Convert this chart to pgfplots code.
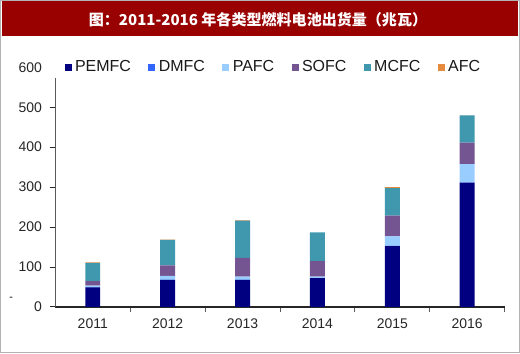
\documentclass[border=0pt]{standalone}
\usepackage{pgfplots}
\pgfplotsset{compat=1.18}
\usepackage{fontspec}
\setmainfont{Liberation Sans}
\newfontfamily\cjk{Noto Sans CJK SC}
\definecolor{pem}{RGB}{0,0,128}
\definecolor{dm}{RGB}{51,102,255}
\definecolor{pa}{RGB}{153,204,255}
\definecolor{so}{RGB}{117,85,145}
\definecolor{mc}{RGB}{64,152,174}
\definecolor{af}{RGB}{230,138,61}
\definecolor{titlered}{RGB}{153,0,0}
\tikzset{
  ylab/.style={anchor=east, font=\fontsize{10.5}{12}\selectfont, text=black!85, xshift=-6.5pt},
  xlab/.style={anchor=north, font=\fontsize{10.5}{12}\selectfont, text=black!85, yshift=-5pt},
}
\begin{document}
\begin{tikzpicture}
\draw[gray!60, line width=0.6pt] (0,0) rectangle (390pt,-264.75pt);
\fill[titlered] (1.5pt,-0.8pt) rectangle (388.5pt,-27pt);
\node[text=white, font=\cjk\bfseries\fontsize{11.3}{13}\selectfont] at (193.5pt,-14.2pt) {图：2011-2016 年各类型燃料电池出货量（兆瓦）};
\node[font=\fontsize{8}{9}\selectfont, text=black] at (8pt,-224pt) {-};
\begin{axis}[
  at={(41.25pt,-230.25pt)}, anchor=south west,
  scale only axis, width=337.5pt, height=180pt,
  ybar stacked, bar width=11.25pt,
  xmin=-0.5, xmax=5.5, ymin=0, ymax=600,
  axis lines=none,
  clip=false,
  xtick=\empty, ytick=\empty,
  every axis plot/.append style={draw=none},
  legend columns=6,
  legend style={at={(0.02,1.0)}, anchor=west, draw=none, fill=none, inner sep=0pt,
    font=\fontsize{12}{14}\selectfont, text=black!90,
    /tikz/every even column/.append style={column sep=10.5pt},
    nodes={inner xsep=2.5pt, inner ysep=1pt}},
  legend image code/.code={\fill[#1] (0pt,-2.7pt) rectangle (5.4pt,2.7pt);},
]
\addplot[fill=pem] coordinates {(0,49) (1,67.5) (2,67.5) (3,72) (4,152.5) (5,311)};
\addplot[fill=dm] coordinates {(0,0.5) (1,0.5) (2,0.3) (3,0.3) (4,0.3) (5,0.5)};
\addplot[fill=pa] coordinates {(0,4) (1,9.5) (2,8) (3,3.5) (4,24) (5,46)};
\addplot[fill=so] coordinates {(0,11) (1,26.5) (2,47) (3,39) (4,52) (5,54)};
\addplot[fill=mc] coordinates {(0,46) (1,64) (2,93) (3,72) (4,69) (5,68)};
\addplot[fill=af] coordinates {(0,1) (1,0.5) (2,1.5) (3,0) (4,2) (5,0.3)};
\legend{PEMFC,DMFC,PAFC,SOFC,MCFC,AFC}
% axis lines
\draw[gray!70!black, line width=0.7pt] (axis cs:-0.5,0) -- (axis cs:-0.5,572);
\draw[black!85, line width=0.9pt] (axis cs:-0.5,0) -- (axis cs:5.5,0);
\pgfplotsinvokeforeach{0,100,200,300,400,500}{
  \draw[black!85, line width=0.7pt] (axis cs:-0.5,#1) -- ([xshift=-3.75pt]axis cs:-0.5,#1);
}
\node[ylab] at (axis cs:-0.5,0) {0};
\node[ylab] at (axis cs:-0.5,100) {100};
\node[ylab] at (axis cs:-0.5,200) {200};
\node[ylab] at (axis cs:-0.5,300) {300};
\node[ylab] at (axis cs:-0.5,400) {400};
\node[ylab] at (axis cs:-0.5,500) {500};
\node[ylab] at (axis cs:-0.5,600) {600};
\pgfplotsinvokeforeach{0.5,1.5,2.5,3.5,4.5,5.5}{
  \draw[gray!70!black, line width=0.6pt] (axis cs:#1,0) -- ([yshift=-3.75pt]axis cs:#1,0);
}
\node[xlab] at (axis cs:0,0) {2011};
\node[xlab] at (axis cs:1,0) {2012};
\node[xlab] at (axis cs:2,0) {2013};
\node[xlab] at (axis cs:3,0) {2014};
\node[xlab] at (axis cs:4,0) {2015};
\node[xlab] at (axis cs:5,0) {2016};
\end{axis}
\end{tikzpicture}
\end{document}
